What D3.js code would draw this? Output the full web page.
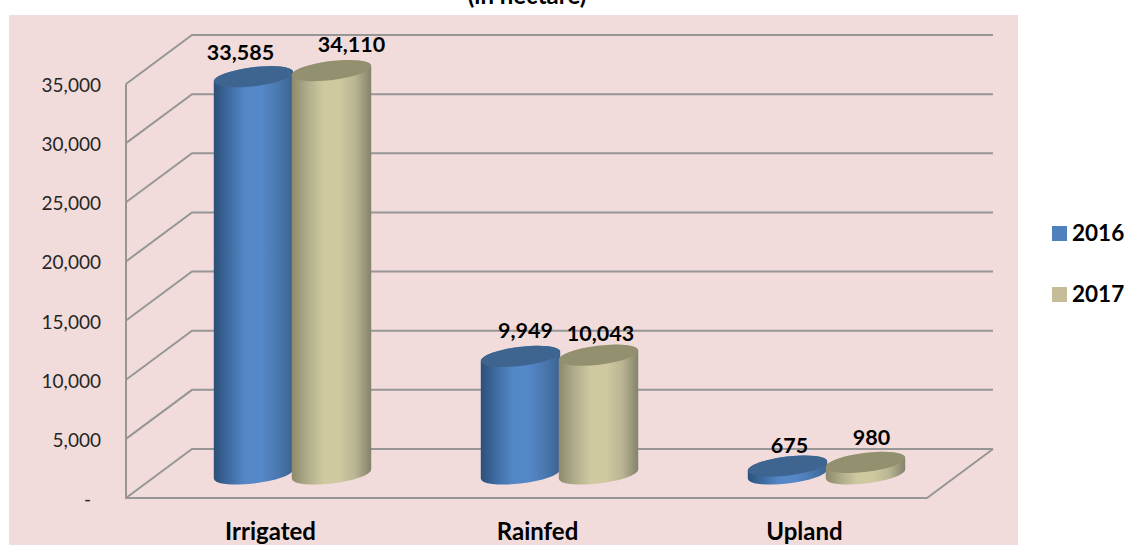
<!DOCTYPE html>
<html><head><meta charset="utf-8">
<script src="https://cdn.jsdelivr.net/npm/d3@7"></script>
<style>html,body{margin:0;padding:0;background:#fff}svg{display:block}text{font-family:Lato,"Open Sans",sans-serif}</style>
</head><body><svg id="c" width="1128" height="546"></svg>
<script>
const categories = ["Irrigated","Rainfed","Upland"];
const seriesNames = ["2016","2017"];
const values2016 = [33585,9949,675];
const values2017 = [34110,10043,980];
const tickValues = [0,5000,10000,15000,20000,25000,30000,35000];
const titleText = "(in hectare)";

const svg = d3.select("#c");
const depth = {x:66,y:-49};
const frame = {l:126,r:927,t:84,b:498};
const y = d3.scaleLinear().domain([0,35000]).range([frame.b,frame.t]);
const x = d3.scaleBand().domain(categories).range([frame.l+33,frame.r+33]);
const sx = d3.scaleBand().domain(seriesNames).range([-78,78]);
const fmt = d3.format(",");
const palettes = [
  {id:"gBlue",top:"#3e6490",stops:["#2c5079","#3f6da3","#5487c6","#5588c8","#4a79b0","#3a628f"]},
  {id:"gTan",top:"#939070",stops:["#8c8a6a","#b0ad8b","#cfc9a0","#cfc9a0","#b9b592","#84826a"]}
];
const defs = svg.append("defs");
palettes.forEach(p=>{
  const g = defs.append("linearGradient").attr("id",p.id);
  p.stops.forEach((c,i)=>g.append("stop").attr("offset",i/(p.stops.length-1)).attr("stop-color",c));
});
svg.append("rect").attr("x",9).attr("y",15).attr("width",1009).attr("height",530).attr("fill","#f2dcdb");

svg.append("text").attr("x",527).attr("y",4).attr("text-anchor","middle")
  .attr("font-weight",700).attr("font-size",24).attr("fill","#000").text(titleText);

// walls and gridlines
const grid = svg.append("g").attr("fill","none").attr("stroke","#969696").attr("stroke-width",2);
grid.selectAll("path.g").data(tickValues).join("path").attr("class","g")
  .attr("d",v=>`M${frame.l},${y(v)}L${frame.l+depth.x},${y(v)+depth.y}H${frame.r+depth.x}`);
grid.append("path").attr("d",`M${frame.l},${frame.t}V${frame.b}H${frame.r}L${frame.r+depth.x},${frame.b+depth.y}`);

// y tick labels
svg.append("g").selectAll("text").data(tickValues).join("text")
  .attr("x",v=>v===0?91:101).attr("y",v=>y(v)+8).attr("text-anchor","end")
  .attr("font-size",19).attr("fill","#262626")
  .text(v=>v===0?"-":fmt(v));

// cylinders
const rx = 40, ry = 9.5, tilt = -7;
const rad = tilt*Math.PI/180;
const ext = Math.sqrt((rx*Math.cos(rad))**2+(ry*Math.sin(rad))**2);
const extY = (rx*rx-ry*ry)*Math.sin(rad)*Math.cos(rad)/ext;
const baseY = y(0)-24;
const cyl = (cx,cy0,cyT)=>
  `M${cx-ext},${cyT-extY}L${cx-ext},${cy0-extY}A${rx},${ry} ${tilt} 0 0 ${cx+ext},${cy0+extY}L${cx+ext},${cyT+extY}A${rx},${ry} ${tilt} 0 0 ${cx-ext},${cyT-extY}Z`;
const seriesValues = [values2016,values2017];
const labelNudge = [[-13,-7],[5,-8],[2,-3],[20,-9],[2,-4],[6,-7]];
const gBars = svg.append("g");
seriesNames.forEach((s,si)=>{
  const g = gBars.append("g");
  categories.forEach((c,ci)=>{
    const cx = x(c)+x.bandwidth()/2+sx(s)+sx.bandwidth()/2;
    const v = seriesValues[si][ci];
    const cyT = baseY-(y(0)-y(v));
    g.append("path").attr("d",cyl(cx,baseY,cyT)).attr("fill",`url(#${palettes[si].id})`);
    g.append("ellipse").attr("cx",cx).attr("cy",cyT).attr("rx",rx).attr("ry",ry)
      .attr("transform",`rotate(${tilt} ${cx} ${cyT})`).attr("fill",palettes[si].top);
  });
});
// value labels
seriesNames.forEach((s,si)=>{
  categories.forEach((c,ci)=>{
    const cx = x(c)+x.bandwidth()/2+sx(s)+sx.bandwidth()/2;
    const v = seriesValues[si][ci];
    const cyT = baseY-(y(0)-y(v));
    const n = labelNudge[si*3+ci];
    svg.append("text").attr("x",cx+n[0]).attr("y",cyT-10+n[1]).attr("text-anchor","middle")
      .attr("font-weight",700).attr("font-size",21.5).attr("fill","#000").text(fmt(v));
  });
});
// category labels
svg.append("g").selectAll("text").data(categories).join("text")
  .attr("x",c=>x(c)+x.bandwidth()/2-22).attr("y",540).attr("text-anchor","middle")
  .attr("font-weight",700).attr("font-size",24).attr("fill","#000").text(c=>c);
// legend
const leg = svg.append("g").selectAll("g").data(seriesNames).join("g")
  .attr("transform",(d,i)=>`translate(1052,${226+i*61})`);
leg.append("rect").attr("width",15).attr("height",15).attr("fill",(d,i)=>["#4f81bd","#c4bd97"][i]);
leg.append("text").attr("x",20).attr("y",15).attr("font-weight",700).attr("font-size",22.5).attr("fill","#000").text(d=>d);
</script></body></html>
